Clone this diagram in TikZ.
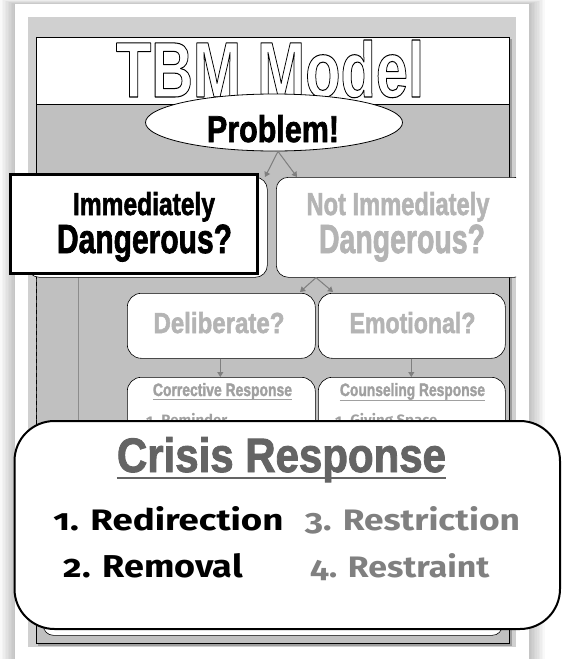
\documentclass[tikz,border=0pt]{standalone}
\usepackage{fontspec}
\usepackage{graphicx}
\usetikzlibrary{shapes.geometric,arrows.meta,calc}
\newfontfamily\imp[BoldFeatures={FakeBold=2}]{Liberation Sans}
\newfontfamily\impt{Liberation Sans}
\newcommand\impb{\imp\bfseries}
\newfontfamily\cand[Numbers=OldStyle]{Fira Sans}
\definecolor{frameg}{HTML}{D0D0D0}
\definecolor{panelg}{HTML}{C0C0C0}
\definecolor{lightt}{HTML}{B4B4B4}
\definecolor{midt}{HTML}{A0A0A0}
\definecolor{crisisg}{HTML}{646464}
\definecolor{itemg}{HTML}{808080}
\definecolor{arrowg}{HTML}{7F7F7F}
\newcommand\fitt[3]{\resizebox{#1pt}{#2pt}{#3}}
\newcommand\outlined[1]{\special{pdf:literal direct 2 Tr 0.13 w 1 j 1 g 0 G}#1\special{pdf:literal direct 0 Tr 0 j}}
\begin{document}
\begin{tikzpicture}[x=1pt,y=-1pt,
  box/.style={draw=black, fill=white, rounded corners=12pt, line width=0.6pt, inner sep=0pt, anchor=north west},
  lbl/.style={anchor=base, inner sep=0pt},
  arr/.style={draw=arrowg, line width=1pt, -{Triangle[length=5pt,width=6pt]}, fill=arrowg}]
\useasboundingbox (0,0) rectangle (566,659);
\fill[white] (0,0) rectangle (566,659);
% page shadow
\foreach \i in {1,...,10}
  \fill[black,opacity=0.022] (15-1.5*\i,4-0.5*\i) rectangle (529+1.6*\i,670);
\fill[white] (15,4) rectangle (529,670);
% frame
\fill[frameg] (28,17) rectangle (516,647);
\fill[black!38] (38,39) rectangle (512,646);
\draw[fill=panelg, line width=0.6pt] (36,37) rectangle (509,643);
\draw[fill=white, line width=0.6pt] (36,37) rectangle (509,104);
% title outlined
\node[lbl, text=white] (title) at (270,97) {\outlined{\fitt{308}{57}{\impt\bfseries TBM Model}}};
% left column lines
\draw[black!80, line width=0.8pt, dash pattern=on 3pt off 4pt] (36,279) -- (36,420);
\draw[black!45, line width=1pt] (78,277) -- (78,420);
\begin{scope}
\clip (28,17) rectangle (516,647);
\node[box, minimum width=240pt, minimum height=100pt] (imm) at (27,177) {};
\node[box, minimum width=250pt, minimum height=100pt] (notb) at (276,177) {};
\end{scope}
\node[draw=black, fill=white, line width=3.2pt, inner sep=0pt, anchor=north west, minimum width=247pt, minimum height=99pt] (hl) at (9,173) {};
\node[box, rounded corners=14pt, minimum width=188pt, minimum height=65pt] (delib) at (127,293) {};
\node[box, rounded corners=14pt, minimum width=187pt, minimum height=65pt] (emo) at (318,293) {};
\node[box, rounded corners=14pt, minimum width=188pt, minimum height=180pt] (corr) at (127,377) {};
\node[box, rounded corners=14pt, minimum width=187pt, minimum height=180pt] (couns) at (318,377) {};
% texts in boxes
\node[lbl] (immA) at (144,215) {\fitt{142}{23}{\impb Immediately}};
\node[lbl] (immB) at (144.5,253) {\fitt{175}{28.5}{\impb Dangerous?}};
\node[lbl, text=lightt] (notA) at (398,215) {\fitt{183}{23}{\impb Not Immediately}};
\node[lbl, text=lightt] (notB) at (402,253) {\fitt{166}{28.5}{\impb Dangerous?}};
\node[lbl, text=lightt] (delt) at (219,333) {\fitt{131}{21}{\impb Deliberate?}};
\node[lbl, text=lightt] (emot) at (412.5,333) {\fitt{126}{21}{\impb Emotional?}};
\node[lbl, text=midt] (corrt) at (222.5,396) {\fitt{139}{13}{\impb Corrective Response}};
\node[lbl, text=midt] (counst) at (412.5,396) {\fitt{145}{13}{\impb Counseling Response}};
\draw[midt, line width=1pt] ([yshift=-3.5pt]corrt.base west) -- ([yshift=-3.5pt]corrt.base east);
\draw[midt, line width=1pt] ([yshift=-4pt]counst.base west) -- ([yshift=-4pt]counst.base east);
\node[anchor=base west, inner sep=0pt, text=midt, font=\cand\bfseries\fontsize{15}{15}\selectfont] (rem) at (146,425) {1. Reminder};
\node[anchor=base west, inner sep=0pt, text=midt, font=\cand\bfseries\fontsize{15}{15}\selectfont] (giv) at (335,425) {1. Giving Space};
% problem ellipse
\node[ellipse, draw=black, fill=white, line width=0.8pt, minimum width=257pt, minimum height=57pt, inner sep=0pt] (prob) at (274,122.5) {};
\node[lbl] (probt) at (273,142) {\fitt{132}{27}{\impb Problem!}};
% arrows
\coordinate (ia) at (265,177);
\coordinate (na) at (297,177);
\coordinate (da) at (300,292);
\coordinate (ea) at (333,292);
\draw[arr] ([xshift=4pt]prob.south) -- (ia);
\draw[arr] ([xshift=4pt]prob.south) -- (na);
\draw[arr] ([xshift=40pt]notb.south west) -- (da);
\draw[arr] ([xshift=40pt]notb.south west) -- (ea);
\draw[arr] ([xshift=-1pt]delib.south) -- ([xshift=-1pt]corr.north);
\draw[arr] ([xshift=-0.5pt]emo.south) -- ([xshift=-0.5pt]couns.north);
% hidden lower box
\node[box, rounded corners=10pt, minimum width=459pt, minimum height=95pt] (low) at (43,540) {};
% crisis box
\node[draw=black, fill=white, line width=2pt, rounded corners=40pt, inner sep=0pt, anchor=north west, minimum width=545.5pt, minimum height=208pt] (crisis) at (13.5,420) {};
\node[lbl, text=crisisg] (crt) at (281.5,472) {\fitt{329}{35}{\impb Crisis Response}};
\draw[crisisg, line width=2pt] ([yshift=-6pt]crt.base west) -- ([yshift=-6pt]crt.base east);
\node[lbl, text=black] (r1) at (168.5,530) {\fitt{230}{24}{\cand\bfseries 1. Redirection}};
\node[lbl, text=itemg] (r3) at (412.5,530) {\fitt{215}{24}{\cand\bfseries 3. Restriction}};
\node[lbl, text=black] (r2) at (153.5,577) {\fitt{179}{24}{\cand\bfseries 2. Removal}};
\node[lbl, text=itemg] (r4) at (400,577) {\fitt{179}{24}{\cand\bfseries 4. Restraint}};
\end{tikzpicture}
\end{document}
